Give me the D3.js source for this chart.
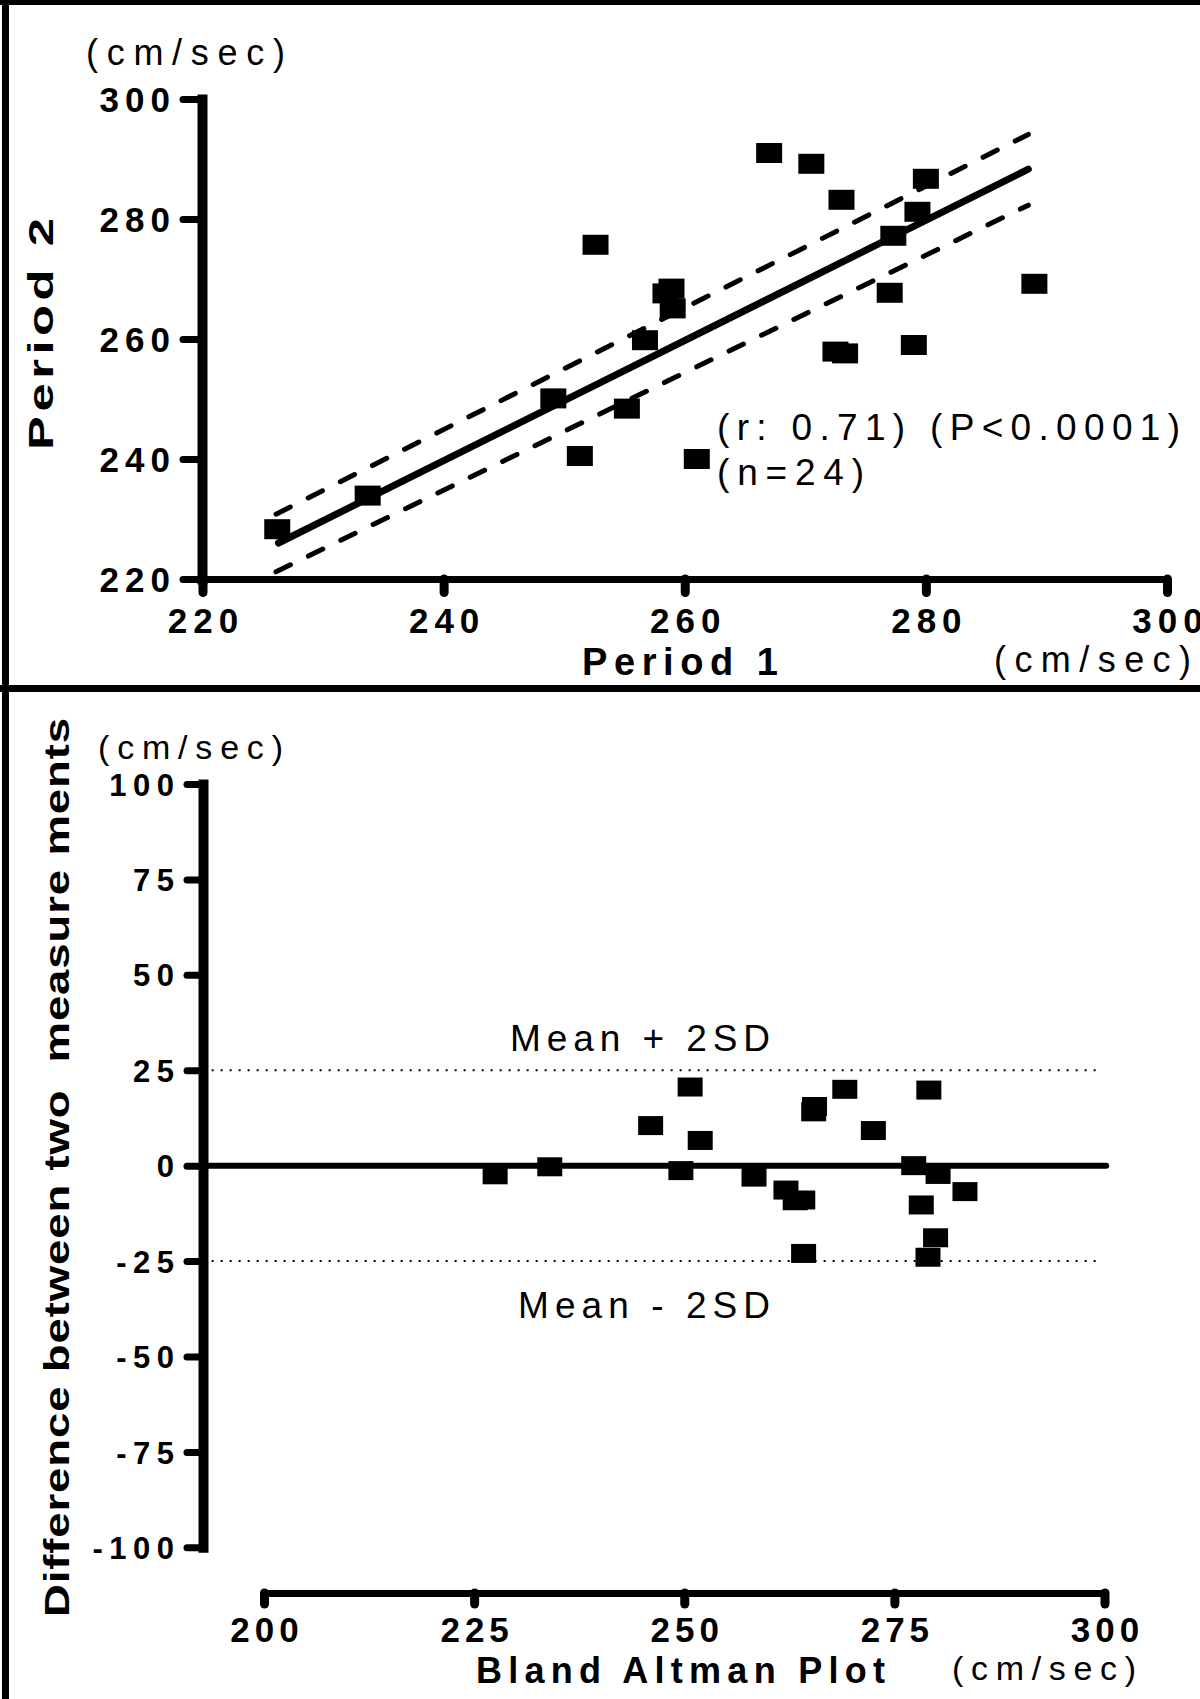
<!DOCTYPE html>
<html><head><meta charset="utf-8">
<script src="https://cdn.jsdelivr.net/npm/d3@7"></script>
<style>
body{margin:0;background:#fff}
svg{display:block;background:#fff}
text{font-family:"Liberation Sans",Arial,Helvetica,sans-serif;fill:#000}
</style>
</head><body>
<svg id="c" width="1200" height="1699"></svg>
<script>
// ---------- DATA ----------
// Top panel: Period 1 vs Period 2 (cm/sec)
const period1 = [226.2, 233.7, 249.1, 251.3, 252.6, 255.2, 256.7, 258.4, 258.9, 259.0, 261.0, 267.0, 270.5, 273.0, 272.5, 273.3, 277.0, 277.3, 279.0, 279.3, 280.0, 289.0];
const period2 = [228.3, 233.9, 250.1, 240.5, 275.7, 248.4, 259.8, 267.6, 268.4, 265.1, 240.0, 291.0, 289.2, 283.2, 257.9, 257.6, 267.7, 277.2, 259.0, 281.2, 286.7, 269.2];
const regLine   = [[226.3, 226.0], [288.5, 288.3]];
const upperBand = [[226.1, 230.8], [288.5, 294.1]];
const lowerBand = [[226.1, 221.2], [288.5, 282.3]];
const topTicks  = [220, 240, 260, 280, 300];
const statLines = ["(r: 0.71) (P<0.0001)", "(n=24)"];

// Bottom panel: Bland Altman plot
const baMean = [227.5, 234.0, 246.0, 250.7, 251.9, 249.6, 258.3, 262.1, 263.2, 264.1, 264.2, 265.5, 265.4, 269.1, 272.5, 277.3, 278.2, 280.2, 279.1, 279.9, 279.0, 283.4];
const baDiff = [-2.4, -0.3, 10.5, 20.6, 6.6, -1.3, -3.0, -6.4, -9.2, -9.0, -23.0, 15.5, 14.1, 20.0, 9.2, 0.0, -10.3, -2.3, 19.8, -18.9, -24.0, -6.8];
const baYTicks = [-100, -75, -50, -25, 0, 25, 50, 75, 100];
const baXTicks = [200, 225, 250, 275, 300];
const baMeanDiff = 0;
const baLimits = [25, -25];
const baLimitLabels = ["Mean + 2SD", "Mean - 2SD"];
const baLineExtent = [192.7, 300.2];
const baLimitExtent = [192.7, 299.2];

// ---------- DRAWING ----------
const W = 1200, H = 1699;
const svg = d3.select("#c");

// frame
svg.append("line").attr("x1", 0).attr("x2", W).attr("y1", 2.5).attr("y2", 2.5).attr("stroke", "#000").attr("stroke-width", 5);
svg.append("line").attr("x1", 5.5).attr("x2", 5.5).attr("y1", 0).attr("y2", H).attr("stroke", "#000").attr("stroke-width", 7);
svg.append("line").attr("x1", 0).attr("x2", W).attr("y1", 688.5).attr("y2", 688.5).attr("stroke", "#000").attr("stroke-width", 7);

function styleAxis(g, o) {
  g.attr("font-size", null).attr("font-family", null);
  g.select(".domain").attr("stroke", "#000").attr("stroke-width", o.domainW).attr("stroke-linecap", "square");
  g.selectAll(".tick line").attr("stroke", "#000").attr("stroke-width", o.tickW).attr("stroke-linecap", "round");
  const t = g.selectAll(".tick text")
    .style("font-size", o.fs + "px").style("font-weight", "bold").style("letter-spacing", o.ls + "px");
  Object.entries(o.attrs).forEach(([k, v]) => t.attr(k, v));
}

function label(txt, x, y, fs, weight, len, anchor, rot, stretch) {
  const s = stretch || 1;
  const t = svg.append("text")
    .attr("transform", rot ? `translate(${x},${y}) rotate(-90) scale(${s},1)` : null)
    .attr("x", rot ? 0 : x).attr("y", rot ? 0 : y)
    .attr("text-anchor", anchor || "start")
    .style("font-size", fs + "px").style("font-weight", weight)
    .style("white-space", "pre")
    .attr("textLength", len / s).attr("lengthAdjust", "spacing")
    .text(txt);
  return t;
}

// ----- top panel -----
const xT = d3.scaleLinear().domain([220, 300]).range([202.5, 1167]);
const yT = d3.scaleLinear().domain([220, 300]).range([579, 99]);

const gyT = svg.append("g").attr("transform", "translate(202,0)")
  .call(d3.axisLeft(yT).tickValues(topTicks).tickSize(19).tickSizeOuter(0).tickFormat(d => String(d)));
styleAxis(gyT, {domainW: 10, tickW: 7, fs: 35, ls: 6, attrs: {x: -32, dx: 6, dy: "0.36em"}});

const gxT = svg.append("g").attr("transform", "translate(0,579)")
  .call(d3.axisBottom(xT).tickValues(topTicks).tickSize(13.5).tickSizeOuter(0).tickFormat(d => String(d)));
styleAxis(gxT, {domainW: 7, tickW: 9, fs: 35, ls: 6, attrs: {y: 54, dy: 0, dx: 3}});

const lineT = d3.line().x(d => xT(d[0])).y(d => yT(d[1]));
svg.append("path").attr("d", lineT(upperBand)).attr("fill", "none").attr("stroke", "#000")
  .attr("stroke-width", 5).attr("stroke-dasharray", "16,20").attr("stroke-linecap", "round");
svg.append("path").attr("d", lineT(lowerBand)).attr("fill", "none").attr("stroke", "#000")
  .attr("stroke-width", 5).attr("stroke-dasharray", "16,20").attr("stroke-linecap", "round");
svg.append("path").attr("d", lineT(regLine)).attr("fill", "none").attr("stroke", "#000")
  .attr("stroke-width", 7).attr("stroke-linecap", "round");

svg.append("g").selectAll("rect").data(period1.map((v, i) => [v, period2[i]])).join("rect")
  .attr("x", d => xT(d[0]) - 13).attr("y", d => yT(d[1]) - 10)
  .attr("width", 26).attr("height", 20).attr("fill", "#000");

label("(cm/sec)", 86, 65, 36, "normal", 199);
label("Period 2", 53, 334, 35, "bold", 232, "middle", true, 1.45);
label("Period 1", 582, 675, 38, "bold", 196);
label("(cm/sec)", 994, 672, 36, "normal", 197);
label(statLines[0], 717, 440, 37, "normal", 463);
label(statLines[1], 717, 485, 37, "normal", 147);

// ----- bottom panel -----
const xB = d3.scaleLinear().domain([200, 300]).range([264, 1104.5]);
const yB = d3.scaleLinear().domain([-100, 100]).range([1547.3, 784]);

const gyB = svg.append("g").attr("transform", "translate(203,0)")
  .call(d3.axisLeft(yB).tickValues(baYTicks).tickSize(16).tickSizeOuter(0).tickFormat(d => String(d)));
styleAxis(gyB, {domainW: 10, tickW: 7, fs: 31, ls: 6.5, attrs: {x: -29, dx: 6.5, dy: "0.36em"}});

const gxB = svg.append("g").attr("transform", "translate(0,1593)")
  .call(d3.axisBottom(xB).tickValues(baXTicks).tickSize(11).tickSizeOuter(0).tickFormat(d => String(d)));
styleAxis(gxB, {domainW: 7, tickW: 9, fs: 35, ls: 5, attrs: {y: 49, dy: 0, dx: 2.5}});

// limits of agreement (dotted)
svg.append("g").selectAll("line").data(baLimits).join("line")
  .attr("x1", xB(baLimitExtent[0])).attr("x2", xB(baLimitExtent[1]))
  .attr("y1", d => yB(d)).attr("y2", d => yB(d))
  .attr("stroke", "#000").attr("stroke-width", 2).attr("stroke-dasharray", "2,7");
// mean difference line
svg.append("line")
  .attr("x1", xB(baLineExtent[0])).attr("x2", xB(baLineExtent[1]))
  .attr("y1", yB(baMeanDiff)).attr("y2", yB(baMeanDiff))
  .attr("stroke", "#000").attr("stroke-width", 6).attr("stroke-linecap", "round");

svg.append("g").selectAll("rect").data(baMean.map((v, i) => [v, baDiff[i]])).join("rect")
  .attr("x", d => xB(d[0]) - 12.5).attr("y", d => yB(d[1]) - 9.5)
  .attr("width", 25).attr("height", 19).attr("fill", "#000");

label("(cm/sec)", 98, 759, 34, "normal", 185);
label(baLimitLabels[0], 510, 1051, 37, "normal", 260);
label(baLimitLabels[1], 518, 1318, 37, "normal", 252);
label("Difference between two  measure ments", 69, 1167.5, 35, "bold", 899, "middle", true, 1.3);
label("Bland Altman Plot", 476, 1683, 36, "bold", 409);
label("(cm/sec)", 952, 1680, 34, "normal", 184);
</script>
</body></html>
